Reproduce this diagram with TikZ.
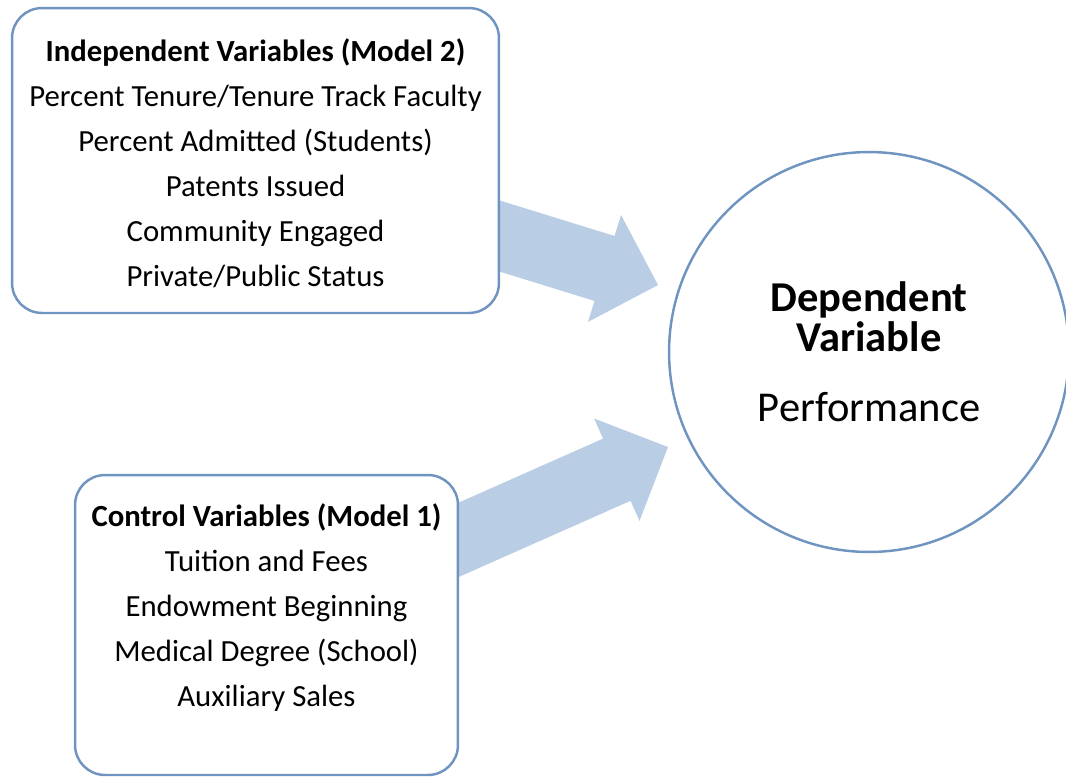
\documentclass[tikz,border=0pt]{standalone}
\usepackage{fontspec}
\setmainfont{Carlito}
\usetikzlibrary{calc,backgrounds}
\definecolor{boxline}{RGB}{112,148,192}
\definecolor{flowfill}{RGB}{185,205,229}
\tikzset{
  varbox/.style={draw=boxline, line width=1.4pt, rounded corners=0.6cm, fill=white},
  vartext/.style={align=center, font=\fontsize{17.5}{25.6}\selectfont}
}
\newcommand{\flowarrow}[2]{%
  \path ($(#2)!1.12cm!(#1)$) coordinate (fbase);
  \fill[flowfill] ($(#1)!0.68cm!90:(fbase)$) -- ($(fbase)!0.68cm!-90:(#1)$)
    -- ($(fbase)!1.12cm!-90:(#1)$) -- (#2) -- ($(fbase)!1.12cm!90:(#1)$)
    -- ($(fbase)!0.68cm!90:(#1)$) -- ($(#1)!0.68cm!-90:(fbase)$) -- cycle;}
\begin{document}
\begin{tikzpicture}[x=0.02cm,y=-0.02cm]
\useasboundingbox (0,0) rectangle (1066,779);
\node[varbox, minimum width=9.74cm, minimum height=6.1cm] (ind) at (255.5,160.5) {};
\node[vartext] (indtext) at (255.5,163.5) {\textbf{Independent Variables (Model 2)}\\Percent Tenure/Tenure Track Faculty\\Percent Admitted (Students)\\Patents Issued\\Community Engaged\\Private/Public Status};
\node[varbox, minimum width=7.66cm, minimum height=6cm] (ctrl) at (266.5,625) {};
\node[vartext] (ctrltext) at (266.5,608) {\textbf{Control Variables (Model 1)}\\Tuition and Fees\\Endowment Beginning\\Medical Degree (School)\\Auxiliary Sales};
\node[circle, draw=boxline, line width=1.4pt, minimum size=8cm, align=center, font=\fontsize{24.2}{22.8}\selectfont] (dep) at (869,352) {\textbf{Dependent}\\\textbf{Variable}\\[17pt]Performance};
\coordinate (tipA) at (658,285);
\coordinate (tipB) at (668,447);
\begin{scope}[on background layer]
\flowarrow{ind.center}{tipA}
\flowarrow{ctrl.center}{tipB}
\end{scope}
\end{tikzpicture}
\end{document}
